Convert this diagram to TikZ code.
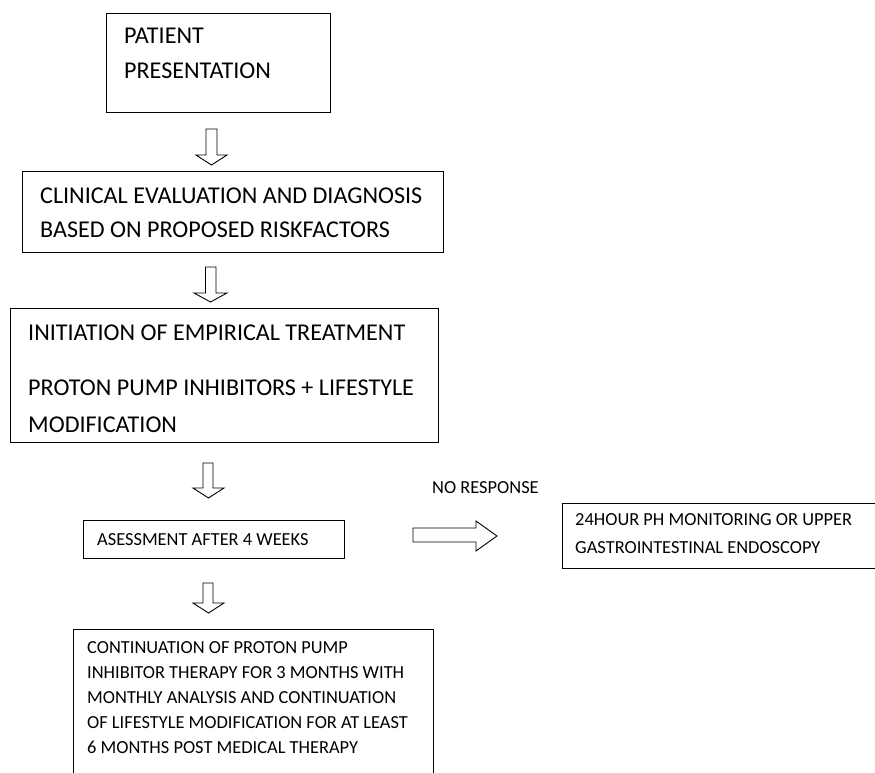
\documentclass[tikz,border=0pt]{standalone}
\usepackage{fontspec}
\setmainfont{Carlito}
\begin{document}
\begin{tikzpicture}[x=1pt,y=-1pt]
\tikzset{
  box/.style={draw, line width=1.3pt, rectangle, inner sep=0pt, anchor=north west},
  blk/.style={draw, line width=0.9pt, line join=miter},
  big/.style={font=\fontsize{24.1}{35}\selectfont, anchor=base west, align=left, inner sep=0pt},
  small/.style={font=\fontsize{18.4}{24.8}\selectfont, anchor=base west, align=left, inner sep=0pt}
}
\useasboundingbox (0,0) rectangle (875,772);
\clip (0,0) rectangle (875,772);
\fill[white] (0,0) rectangle (875,772);
% boxes
\node[box, minimum width=224pt, minimum height=99pt] (b1) at (106,13) {};
\node[box, minimum width=421pt, minimum height=81pt] (b2) at (22,171) {};
\node[box, minimum width=428pt, minimum height=134pt] (b3) at (10,308) {};
\node[box, minimum width=261pt, minimum height=38pt] (b4) at (83,520) {};
\node[box, minimum width=360pt, minimum height=200pt] (b5) at (73,629) {};
\node[box, minimum width=400pt, minimum height=65pt] (b6) at (562,503) {};
% texts (anchor at the baseline of the last line)
\node[big] (t1) at (124,78) {PATIENT\\PRESENTATION};
\node[big, font=\fontsize{24.1}{34}\selectfont] (t2) at (40,237) {CLINICAL EVALUATION AND DIAGNOSIS\\BASED ON PROPOSED RISKFACTORS};
\node[big, font=\fontsize{24.1}{37}\selectfont] (t3) at (28,432) {INITIATION OF EMPIRICAL TREATMENT\\[18pt]PROTON PUMP INHIBITORS + LIFESTYLE\\MODIFICATION};
\node[small] (t4) at (97,545) {ASESSMENT AFTER 4 WEEKS};
\node[small] (t5) at (87,753) {CONTINUATION OF PROTON PUMP\\INHIBITOR THERAPY FOR 3 MONTHS WITH\\MONTHLY ANALYSIS AND CONTINUATION\\OF LIFESTYLE MODIFICATION FOR AT LEAST\\6 MONTHS POST MEDICAL THERAPY};
\node[small, font=\fontsize{18.4}{28}\selectfont] (t6) at (575,553) {24HOUR PH MONITORING OR UPPER\\GASTROINTESTINAL ENDOSCOPY};
\node[small] (nr) at (432,493) {NO RESPONSE};
% hollow block arrows
\draw[blk] (206,129) -- (217,129) -- (217,155) -- (227,155) -- (211.5,165) -- (196,155) -- (206,155) -- cycle;
\draw[blk] (205.5,267) -- (216,267) -- (216,293) -- (227,293) -- (210.5,302) -- (194,293) -- (205.5,293) -- cycle;
\draw[blk] (203,463) -- (213,463) -- (213,488) -- (224,488) -- (208.5,498) -- (193,488) -- (203,488) -- cycle;
\draw[blk] (203,583) -- (213,583) -- (213,603) -- (224,603) -- (208.5,613) -- (193,603) -- (203,603) -- cycle;
\draw[blk] (413,528) -- (476,528) -- (476,521) -- (497,536) -- (476,551) -- (476,542) -- (413,542) -- cycle;
\end{tikzpicture}
\end{document}
